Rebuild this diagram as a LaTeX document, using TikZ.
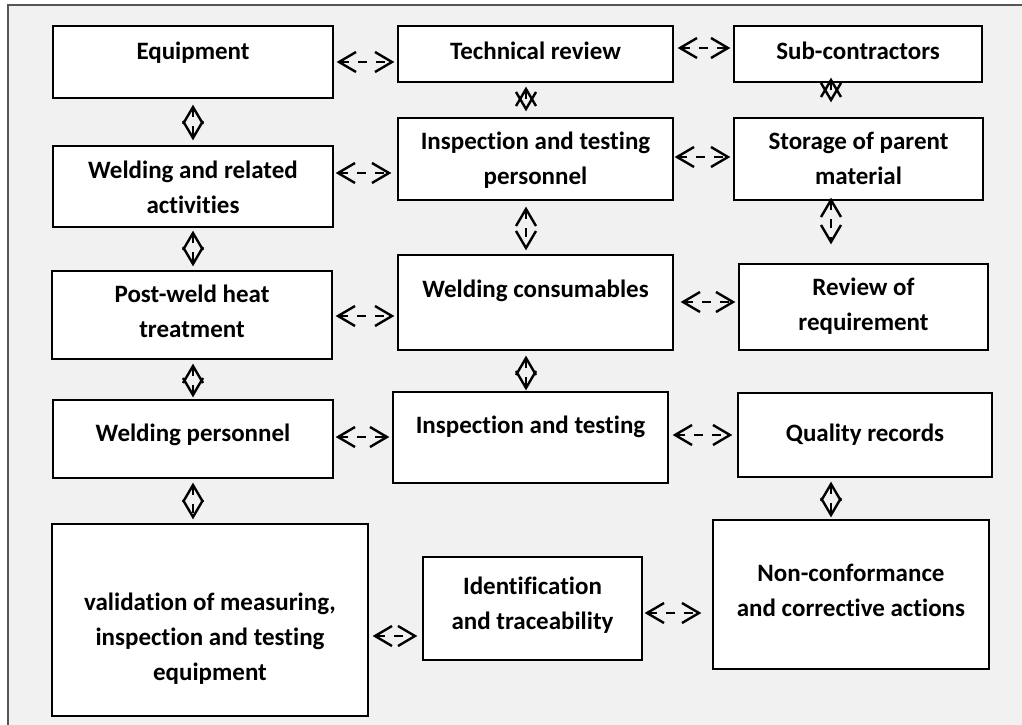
\documentclass[tikz,border=0pt]{standalone}
\usepackage{fontspec}
\setmainfont{Carlito}[Ligatures={NoCommon}]
\usetikzlibrary{arrows.meta}
\definecolor{panel}{HTML}{F1F1F1}
\definecolor{frameline}{HTML}{555555}
\begin{document}
\begin{tikzpicture}[x=1pt,y=-1pt,
  blk/.style={draw=black, line width=1.3pt, fill=white, inner sep=0pt},
  lbl/.style={font=\bfseries\fontsize{25}{35}\selectfont, align=center, inner sep=0pt,
              execute at begin node=\strut, execute at end node=\strut},
  chev/.tip={Straight Barb[length=17pt,width=20pt]},
  link/.style={draw=black, line width=2.4pt, dash pattern=on 9pt off 9pt, chev-chev}]
\useasboundingbox (0,0) rectangle (1022,725);
% panel with its top and left rule
\fill[panel] (8,5) rectangle (1022,725);
\draw[frameline, line width=1.5pt] (8,725) -- (8,5) -- (1022,5);

% boxes
\node[blk, minimum width=280pt, minimum height=72pt] (equip) at (193,62) {};
\node[blk, minimum width=275pt, minimum height=56pt] (tech)  at (535.5,54) {};
\node[blk, minimum width=248pt, minimum height=56pt] (sub)   at (858,54) {};
\node[blk, minimum width=280pt, minimum height=81pt] (wrel)  at (193,186.5) {};
\node[blk, minimum width=275pt, minimum height=82pt] (itp)   at (535.5,159) {};
\node[blk, minimum width=249pt, minimum height=82pt] (stor)  at (858.5,159) {};
\node[blk, minimum width=280pt, minimum height=88pt] (pwht)  at (192,315) {};
\node[blk, minimum width=275pt, minimum height=95pt] (wcons) at (535.5,302.5) {};
\node[blk, minimum width=249pt, minimum height=86pt] (rev)   at (863.5,307) {};
\node[blk, minimum width=280pt, minimum height=78pt] (wpers) at (193,439) {};
\node[blk, minimum width=275pt, minimum height=91pt] (itest) at (530.5,437.5) {};
\node[blk, minimum width=254pt, minimum height=84pt] (qrec)  at (865,435) {};
\node[blk, minimum width=316pt, minimum height=192pt] (valid) at (210,620) {};
\node[blk, minimum width=219pt, minimum height=103pt] (ident) at (532.5,608.5) {};
\node[blk, minimum width=276pt, minimum height=149pt] (nonc)  at (851,594.5) {};

% labels
\node[lbl] (equip-t) at (193,53) {Equipment};
\node[lbl] (tech-t)  at (535.5,53) {Technical review};
\node[lbl] (sub-t)   at (858,53) {Sub-contractors};
\node[lbl] (itp-t)   at (535.5,163.5) {Inspection and testing\\personnel};
\node[lbl] (stor-t)  at (858.5,163.5) {Storage of parent\\material};
\node[lbl] (wrel-t)  at (193,192) {Welding and related\\activities};
\node[lbl] (pwht-t)  at (192,316.5) {Post-weld heat\\treatment};
\node[lbl] (wcons-t) at (535.5,290) {Welding consumables};
\node[lbl] (rev-t)   at (863.5,309.5) {Review of\\requirement};
\node[lbl] (wpers-t) at (193,434) {Welding personnel};
\node[lbl] (itest-t) at (530.5,426) {Inspection and testing};
\node[lbl] (qrec-t)  at (865,434) {Quality records};
\node[lbl] (valid-t) at (210,642) {validation of measuring,\\inspection and testing\\equipment};
\node[lbl] (ident-t) at (532.5,608) {Identification\\and traceability};
\node[lbl] (nonc-t)  at (851,596) {Non-conformance\\and corrective actions};

% connector columns and rows
\coordinate (cL) at (193,0);
\coordinate (cM) at (526,0);
\coordinate (cR) at (831,0);
\coordinate (r1) at (0,62);
\coordinate (r2) at (0,48);
\coordinate (r6) at (0,173);
\coordinate (r7) at (0,157);
\coordinate (r11) at (0,316);
\coordinate (r12) at (0,302);
\coordinate (r15) at (0,437);
\coordinate (r16) at (0,435);
\coordinate (r19) at (0,636);
\coordinate (r20) at (0,613);

% horizontal connectors
\draw[link, shorten <=3pt, shorten >=3pt] (equip.east |- r1) -- (tech.west |- r1);
\draw[link, shorten <=4pt, shorten >=3pt] (tech.east |- r2) -- (sub.west |- r2);
\draw[link, shorten <=2pt, shorten >=6pt] (wrel.east |- r6) -- (itp.west |- r6);
\draw[link, shorten <=1pt, shorten >=3pt] (itp.east |- r7) -- (stor.west |- r7);
\draw[link, shorten <=3pt, shorten >=3pt] (pwht.east |- r11) -- (wcons.west |- r11);
\draw[link, shorten <=7pt, shorten >=3pt] (wcons.east |- r12) -- (rev.west |- r12);
\draw[link, shorten <=2pt, shorten >=3pt] (wpers.east |- r15) -- (itest.west |- r15);
\draw[link, shorten <=4pt, shorten >=5pt] (itest.east |- r16) -- (qrec.west |- r16);
\draw[link, shorten <=4pt, shorten >=5pt] (valid.east |- r19) -- (ident.west |- r19);
\draw[link, shorten <=2pt, shorten >=11pt] (ident.east |- r20) -- (nonc.west |- r20);

% vertical connectors
\draw[link, shorten <=6pt, shorten >=5pt] (equip.south -| cL) -- (wrel.north -| cL);
\draw[link, shorten <=3pt, shorten >=4pt] (wrel.south -| cL) -- (pwht.north -| cL);
\draw[link, shorten <=4pt, shorten >=2pt] (pwht.south -| cL) -- (wpers.north -| cL);
\draw[link, shorten <=4pt, shorten >=4pt] (wpers.south -| cL) -- (valid.north -| cL);
\draw[link, shorten <=4pt, shorten >=6pt] (tech.south -| cM) -- (itp.north -| cM);
\draw[link, shorten <=6pt, shorten >=4pt] (itp.south -| cM) -- (wcons.north -| cM);
\draw[link, shorten <=5pt, shorten >=1pt] (wcons.south -| cM) -- (itest.north -| cM);
\draw[link, shorten <=-5pt, shorten >=15pt] (sub.south -| cR) -- (stor.north -| cR);
\draw[link, shorten <=-3pt, shorten >=19pt] (stor.south -| cR) -- (rev.north -| cR);
\draw[link, shorten <=4pt, shorten >=2pt] (qrec.south -| cR) -- (nonc.north -| cR);
\end{tikzpicture}
\end{document}
